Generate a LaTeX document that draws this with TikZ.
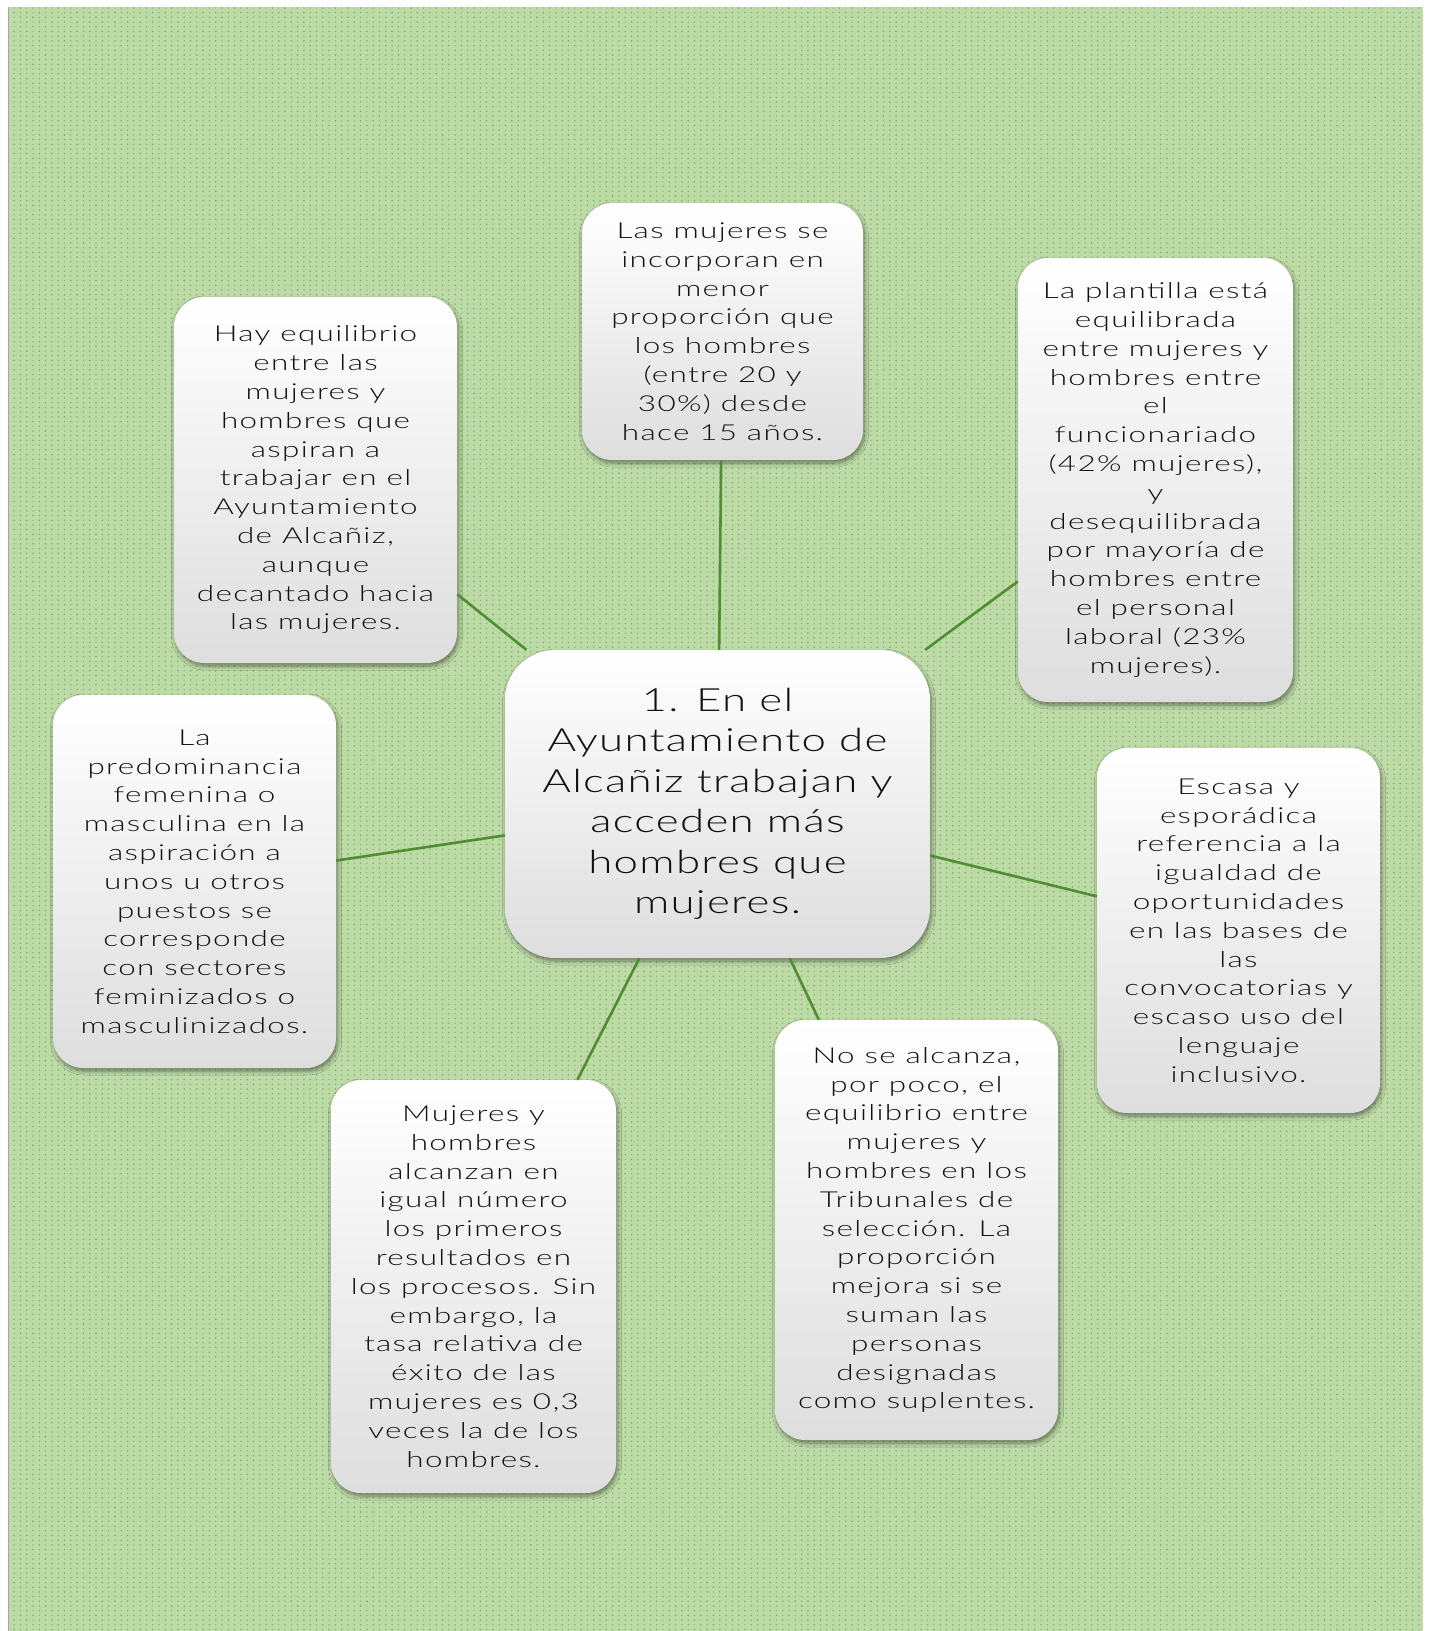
\documentclass[tikz,border=0pt]{standalone}
\usepackage{fontspec}
\setmainfont{Carlito}
\newfontfamily\boxfont{Lato Light}[FakeStretch=1.43,LetterSpace=6]
\newfontfamily\mainboxfont{Lato Light}[FakeStretch=1.37,LetterSpace=4]
\usetikzlibrary{shadows.blur,patterns}
\definecolor{bggreen}{HTML}{BCDBA5}
\definecolor{bgdot}{HTML}{8FA489}
\definecolor{linkgreen}{HTML}{4F8E32}
\definecolor{txt}{HTML}{111111}
\pgfdeclarepatternformonly{bgdots}{\pgfqpoint{-1pt}{-1pt}}{\pgfqpoint{13.6pt}{10.4pt}}{\pgfqpoint{12.6pt}{9.4pt}}{%
  \pgfpathcircle{\pgfqpoint{1.5pt}{1.5pt}}{0.9pt}%
  \pgfpathcircle{\pgfqpoint{7.8pt}{6.2pt}}{0.9pt}%
  \pgfpathcircle{\pgfqpoint{7.8pt}{1.5pt}}{0.7pt}%
  \pgfpathcircle{\pgfqpoint{1.5pt}{6.2pt}}{0.7pt}%
  \pgfusepath{fill}}
\tikzset{
  card/.style={rectangle, rounded corners=30pt, draw=none,
    top color=white, middle color=white, bottom color=black!13,
    blur shadow={shadow blur steps=6, shadow xshift=1.5pt, shadow yshift=-3pt,
      shadow blur radius=4pt, shadow opacity=45},
    align=center, text=txt, inner sep=0pt,
    font=\boxfont\fontsize{22}{28.8}\selectfont},
  maincard/.style={card, rounded corners=50pt,
    font=\mainboxfont\fontsize{32}{40.5}\selectfont},
  link/.style={draw=linkgreen, line width=2.6pt}
}
\begin{document}
\begin{tikzpicture}[x=1pt,y=-1pt]
\useasboundingbox (0,0) rectangle (1429,1631);
\fill[white] (0,0) rectangle (1429,1631);
\fill[bggreen] (8,7) rectangle (1423,1631);
\fill[pattern=bgdots, pattern color=bgdot] (8,7) rectangle (1423,1631);
\draw[gray!70, line width=1.2pt] (8.6,7) -- (8.6,1631);

\node[maincard, minimum width=425pt, minimum height=308pt] (c) at (717.5,804)
  {1. En el\\Ayuntamiento de\\Alcañiz trabajan y\\acceden más\\hombres que\\mujeres.};

\node[card, minimum width=283pt, minimum height=366pt] (a) at (315.5,480)
  {Hay equilibrio\\entre las\\mujeres y\\hombres que\\aspiran a\\trabajar en el\\Ayuntamiento\\de Alcañiz,\\aunque\\decantado hacia\\las mujeres.};

\node[card, minimum width=281pt, minimum height=257pt] (b) at (722.5,331.5)
  {Las mujeres se\\incorporan en\\menor\\proporción que\\los hombres\\(entre 20 y\\30\%) desde\\hace 15 años.};

\node[card, minimum width=275pt, minimum height=444pt] (r) at (1155.5,480)
  {La plantilla está\\equilibrada\\entre mujeres y\\hombres entre\\el\\funcionariado\\(42\% mujeres),\\y\\desequilibrada\\por mayoría de\\hombres entre\\el personal\\laboral (23\%\\mujeres).};

\node[card, minimum width=283pt, minimum height=373pt] (d) at (194.5,881.5)
  {La\\predominancia\\femenina o\\masculina en la\\aspiración a\\unos u otros\\puestos se\\corresponde\\con sectores\\feminizados o\\masculinizados.};

\node[card, minimum width=283pt, minimum height=365pt] (e) at (1238.5,930.5)
  {Escasa y\\esporádica\\referencia a la\\igualdad de\\oportunidades\\en las bases de\\las\\convocatorias y\\escaso uso del\\lenguaje\\inclusivo.};

\node[card, minimum width=285pt, minimum height=413pt] (f) at (473.5,1286.5)
  {Mujeres y\\hombres\\alcanzan en\\igual número\\los primeros\\resultados en\\los procesos. Sin\\embargo, la\\tasa relativa de\\éxito de las\\mujeres es 0,3\\veces la de los\\hombres.};

\node[card, minimum width=283pt, minimum height=420pt] (g) at (916.5,1230)
  {No se alcanza,\\por poco, el\\equilibrio entre\\mujeres y\\hombres en los\\Tribunales de\\selección. La\\proporción\\mejora si se\\suman las\\personas\\designadas\\como suplentes.};

\draw[link] (c) -- (a);
\draw[link] (c) -- (b);
\draw[link] (c) -- (r);
\draw[link] (c) -- (d);
\draw[link] (c) -- (e);
\draw[link] (c) -- (f);
\draw[link] (c) -- (g);
\end{tikzpicture}
\end{document}
